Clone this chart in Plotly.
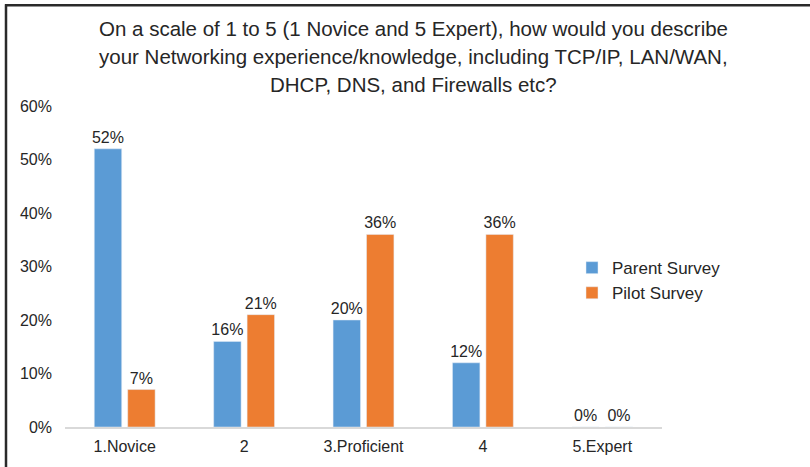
import plotly.graph_objects as go

categories = ["1.Novice", "2", "3.Proficient", "4", "5.Expert"]
parent_survey = [0.52, 0.16, 0.20, 0.12, 0.0]
pilot_survey = [0.07, 0.21, 0.36, 0.36, 0.0]
title_lines = [
    "On a scale of 1 to 5 (1 Novice and 5 Expert), how would you describe",
    "your Networking experience/knowledge, including TCP/IP, LAN/WAN,",
    "DHCP, DNS, and Firewalls etc?",
]

W, H = 810, 467
ML, MR, MT, MB = 65, 148, 106, 38
PW = W - ML - MR
PH = H - MT - MB

def px_x(px):
    return (px - ML) / PW

def px_y(py):
    return (H - MB - py) / PH

FONT = "Liberation Sans, Arial, sans-serif"
TXT = "#262626"

fig = go.Figure()
fig.add_trace(go.Bar(
    x=categories, y=parent_survey, name="Parent Survey",
    marker_color="#5B9BD5",
    texttemplate="%{y:.0%}", textposition="outside", constraintext="none",
    textfont=dict(size=16, color=TXT, family=FONT), cliponaxis=False,
))
fig.add_trace(go.Bar(
    x=categories, y=pilot_survey, name="Pilot Survey",
    marker_color="#ED7D31",
    texttemplate="%{y:.0%}", textposition="outside", constraintext="none",
    textfont=dict(size=16, color=TXT, family=FONT), cliponaxis=False,
))

annotations = []
title_y = [28, 56, 84.5]
for line, py in zip(title_lines, title_y):
    annotations.append(dict(
        text=line, xref="paper", yref="paper", x=px_x(413), y=px_y(py),
        xanchor="center", yanchor="middle", showarrow=False,
        font=dict(size=20.5, color=TXT, family=FONT),
    ))

shapes = [
    dict(type="line", xref="paper", yref="paper",
         x0=px_x(5), x1=px_x(812), y0=px_y(4.5), y1=px_y(4.5),
         line=dict(color="#2a2a2a", width=2.5)),
    dict(type="line", xref="paper", yref="paper",
         x0=px_x(6), x1=px_x(6), y0=px_y(3.5), y1=px_y(470),
         line=dict(color="#2a2a2a", width=2.5)),
]

fig.update_layout(
    width=W, height=H,
    margin=dict(l=ML, r=MR, t=MT, b=MB),
    paper_bgcolor="white", plot_bgcolor="white",
    font=dict(family=FONT, size=16, color=TXT),
    barmode="group", bargap=0.44, bargroupgap=0.18,
    showlegend=True,
    legend=dict(
        x=px_x(572), y=px_y(251), xanchor="left", yanchor="top",
        font=dict(size=17, color=TXT, family=FONT),
        bgcolor="rgba(0,0,0,0)",
    ),
    annotations=annotations,
    shapes=shapes,
    xaxis=dict(
        showline=True, linecolor="#D9D9D9", linewidth=1.5,
        showgrid=False, ticks="", tickfont=dict(size=16, color=TXT),
        ticklabelstandoff=4,
    ),
    yaxis=dict(
        range=[0, 0.6], dtick=0.1, tickformat=".0%",
        showgrid=False, zeroline=False, showline=False,
        tickfont=dict(size=16, color=TXT), ticklabelstandoff=12,
    ),
)

fig.write_html("out.html")
